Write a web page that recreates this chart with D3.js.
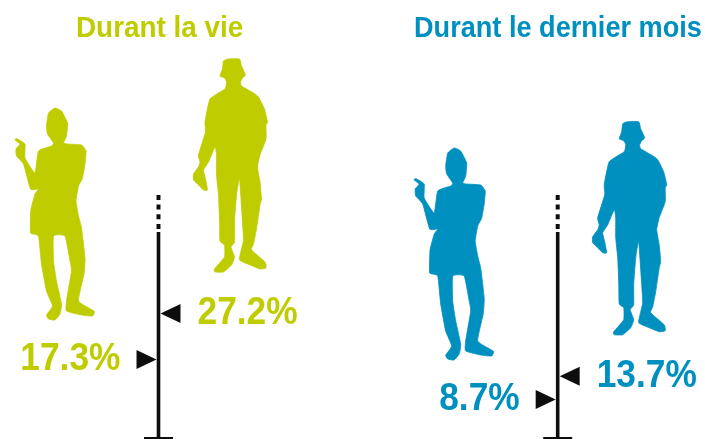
<!DOCTYPE html>
<html>
<head>
<meta charset="utf-8">
<script src="https://cdn.jsdelivr.net/npm/d3@7"></script>
<style>
    html, body { margin: 0; background: #fff; overflow: hidden; }
    text { font-family: "Liberation Sans", Arial, sans-serif; font-weight: bold; }
</style>
</head>
<body>
<svg id="mainCanvas" width="705" height="439"></svg>
<script>
const panels = ["Durant la vie", "Durant le dernier mois"];
const womenValues = [17.3, 8.7];
const menValues = [27.2, 13.7];

const panelColors = ["#bfcd00", "#0090c0"];
const axisTop = 44.7; // where the solid part of the axis stops
const dottedTop = 52.9;

// outlines, origin = axis x / feet level
const manOutline = [[65,-212],[70,-214],[81,-214],[83,-207],[87,-198],[84,-195],[82,-191],[83,-187],[95,-180],[100,-176],[106,-164],[109,-151],[107.5,-148],[107.5,-134],[101.5,-118],[99,-106],[101.5,-91],[103,-74],[101.5,-68],[98,-44],[95,-29],[93,-23],[106.5,-11],[107.5,-5],[101.5,-4],[91.5,-8],[81,-13],[83,-24],[85,-33],[84,-51],[81,-94],[78,-78],[76,-51],[76,-31],[72.5,-26],[76,-16],[73,-8],[65,-1],[56.5,-1],[56,-4],[66,-16],[66,-28],[61.5,-32],[61,-54],[60,-78],[58,-98],[58,-118],[56.5,-126],[50,-111],[45,-103],[47,-94],[49,-83],[45,-83],[40,-88],[35,-93],[35,-99],[40,-106],[41.5,-111],[40,-118],[47,-141],[46.5,-151],[51.5,-174],[66.5,-184],[68,-191],[66,-195],[61.5,-197],[64,-204]];
const womanOutline = [[-112,-193],[-110,-206],[-103.5,-211],[-97,-208],[-91,-196],[-92,-183],[-95,-176],[-91,-175],[-77,-174],[-72.5,-168],[-73.5,-155],[-76,-141],[-80,-133],[-82.5,-118],[-80,-103],[-77,-91],[-73.5,-61],[-74.5,-45],[-80,-18],[-64.5,-8],[-66,-3],[-77,-4],[-92,-8],[-92,-18],[-87,-48],[-88.5,-58],[-93.5,-83],[-105,-83],[-105,-58],[-102,-38],[-97,-15],[-98.5,-5],[-103.5,1],[-110,0],[-112,-4],[-106,-13],[-112,-28],[-117,-55],[-120,-83],[-128,-86],[-128,-101],[-127.5,-110],[-123.5,-125],[-120,-130],[-128,-130],[-135,-155],[-142,-163],[-142.5,-170],[-138.5,-175],[-143.5,-179],[-142,-180.5],[-133.5,-175],[-133.5,-161],[-123.5,-146],[-120,-168],[-107,-173],[-105,-176],[-111,-185]];

const svg = d3.select("svg#mainCanvas");

const y = d3.scaleLinear().domain([0, axisTop]).range([440, 232]);
const axisX = d3.scaleOrdinal().domain(panels).range([158.5, 557.7]);
const titleX = d3.scaleOrdinal().domain(panels).range([76, 414]);
const color = d3.scaleOrdinal().domain(panels).range(panelColors);
const fmt = d3.format(".1f");
const outlinePath = d3.line().curve(d3.curveCardinalClosed.tension(0.6));

// the source is a soft, slightly blurred raster
svg.append("defs").append("filter").attr("id", "soft")
    .append("feGaussianBlur").attr("stdDeviation", 0.45);

const figureOffset = -40.5;
const labelOffset = 10.5;

function drawPanel(name, i) {
    const g = svg.append("g").attr("class", "panel");
    const x0 = axisX(name);
    const c = color(name);
    const soft = g.append("g").attr("filter", "url(#soft)");

    soft.append("text")
        .attr("transform", `translate(${titleX(name)},37) scale(${i === 0 ? 0.945 : 0.92},1)`)
        .attr("font-size", 29.5)
        .attr("fill", c)
        .text(name);

    const people = [
        { value: womenValues[i], outline: womanOutline, side: -1 },
        { value: menValues[i], outline: manOutline, side: 1 }
    ];

    soft.selectAll("path.figure")
        .data(people)
        .join("path")
        .attr("class", "figure")
        .attr("transform", d => `translate(${x0},${y(d.value) + figureOffset})`)
        .attr("d", d => outlinePath(d.outline))
        .attr("fill", c)
        .attr("stroke", c)
        .attr("stroke-width", 0.8)
        .attr("stroke-linejoin", "round");

    // axis: dotted top, solid stem, foot
    soft.append("line")
        .attr("x1", x0).attr("x2", x0)
        .attr("y1", y(axisTop)).attr("y2", y(dottedTop))
        .attr("stroke", "#111")
        .attr("stroke-width", 4)
        .attr("stroke-dasharray", "5 4.7")
        .attr("stroke-dashoffset", -3);
    soft.append("line")
        .attr("x1", x0).attr("x2", x0)
        .attr("y1", y(axisTop)).attr("y2", y(0))
        .attr("stroke", "#111")
        .attr("stroke-width", 3.6);
    soft.append("line")
        .attr("x1", x0 - 14.5).attr("x2", x0 + 14.5)
        .attr("y1", y(0) - 1.5).attr("y2", y(0) - 1.5)
        .attr("stroke", "#111")
        .attr("stroke-width", 3);

    // value markers point at the axis from each side
    soft.selectAll("path.marker")
        .data(people)
        .join("path")
        .attr("class", "marker")
        .attr("transform", d => `translate(${x0 + d.side * 2},${y(d.value)}) scale(${d.side},1)`)
        .attr("d", "M0,0L20,-9.5L20,9.5Z")
        .attr("fill", "#111");

    soft.selectAll("text.value")
        .data(people)
        .join("text")
        .attr("class", "value")
        .attr("transform", d => `translate(${x0 + (d.side < 0 ? -38 : 39)},${y(d.value) + labelOffset}) scale(0.93,1)`)
        .attr("text-anchor", d => d.side < 0 ? "end" : "start")
        .attr("font-size", 38)
        .attr("fill", c)
        .text(d => fmt(d.value) + "%");
}

panels.forEach(drawPanel);
</script>
</body>
</html>
